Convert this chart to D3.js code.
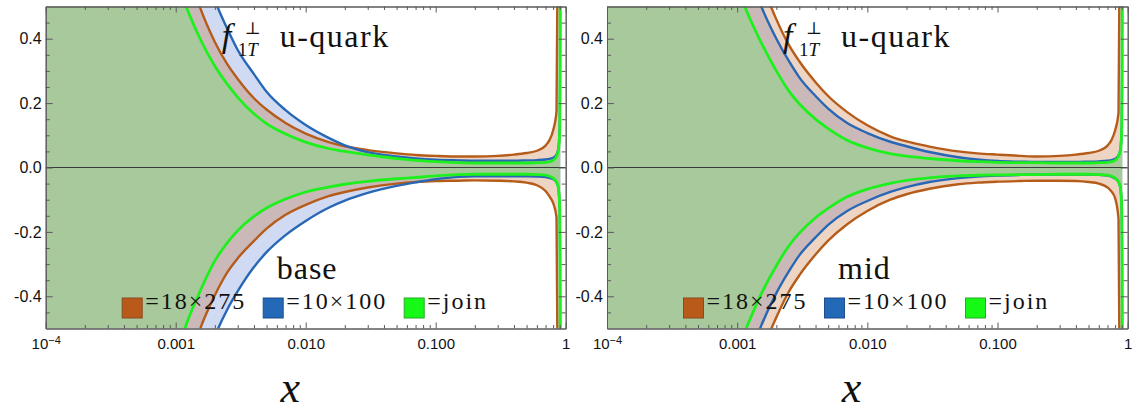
<!DOCTYPE html>
<html>
<head>
<meta charset="utf-8">
<script src="https://cdn.jsdelivr.net/npm/d3@7"></script>
<style>
  body { margin: 0; background: #fff; }
  .serif { font-family: "Liberation Serif", "DejaVu Serif", serif; }
  .sans { font-family: "Liberation Sans", Arial, sans-serif; }
</style>
</head>
<body>
<div id="container"></div>
<script>
const w = 1135;
const h = 411;

// x grid shared by every curve
const xs = [0.0001, 0.0005, 0.0008, 0.001, 0.0012, 0.0015, 0.002, 0.0025, 0.003, 0.004, 0.005, 0.007,
  0.01, 0.015, 0.02, 0.03, 0.05, 0.07, 0.1, 0.15, 0.2, 0.3, 0.4, 0.5, 0.6, 0.7, 0.75, 0.8, 0.85,
  0.88, 0.9, 0.905, 0.91];

// base panel
const baseJoinUp = [5, 1.0, 0.68, 0.58, 0.50, 0.41, 0.315, 0.258, 0.218, 0.167, 0.136, 0.104,
  0.079, 0.059, 0.050, 0.039, 0.028, 0.022, 0.018, 0.015, 0.014, 0.014, 0.014, 0.014, 0.015, 0.016, 0.018, 0.022, 0.035,
  0.055, 0.12, 0.3, 1.0];
const baseJoinLo = [-5, -1.0, -0.69, -0.59, -0.49, -0.395, -0.29, -0.233, -0.196, -0.152, -0.126, -0.098,
  -0.076, -0.061, -0.052, -0.043, -0.035, -0.031, -0.026, -0.022, -0.021, -0.021, -0.021, -0.021, -0.022, -0.024, -0.027, -0.033, -0.045,
  -0.065, -0.13, -0.3, -1.0];
const baseBrownUp = [5, 1.35, 0.92, 0.76, 0.64, 0.51, 0.39, 0.32, 0.275, 0.215, 0.180, 0.138,
  0.105, 0.079, 0.066, 0.054, 0.044, 0.039, 0.036, 0.034, 0.034, 0.036, 0.040, 0.045, 0.052, 0.068, 0.085, 0.115, 0.175,
  1.0, null, null, null];
const baseBrownLo = [-5, -1.35, -0.93, -0.77, -0.65, -0.515, -0.397, -0.325, -0.282, -0.228, -0.19, -0.147,
  -0.116, -0.089, -0.076, -0.062, -0.050, -0.045, -0.042, -0.041, -0.040, -0.041, -0.043, -0.047, -0.055, -0.073, -0.090, -0.110, -0.155,
  -1.0, null, null, null];
const baseBlueUp = [8, 2.2, 1.35, 1.1, 0.89, 0.69, 0.52, 0.43, 0.365, 0.29, 0.235, 0.178,
  0.132, 0.092, 0.069, 0.048, 0.034, 0.028, 0.024, 0.022, 0.021, 0.021, 0.021, 0.022, 0.023, 0.025, 0.027, 0.030, 0.040,
  0.06, 0.14, 0.32, 1.0];
const baseBlueLo = [-8, -2.2, -1.35, -1.1, -0.89, -0.69, -0.525, -0.44, -0.384, -0.309, -0.263, -0.210,
  -0.166, -0.125, -0.103, -0.079, -0.057, -0.046, -0.036, -0.029, -0.027, -0.027, -0.027, -0.027, -0.028, -0.030, -0.032, -0.036, -0.046,
  -0.066, -0.14, -0.32, -1.0];

// mid panel
const midJoinUp = [5, 0.98, 0.66, 0.56, 0.48, 0.395, 0.30, 0.237, 0.198, 0.15, 0.121, 0.085,
  0.061, 0.043, 0.035, 0.028, 0.021, 0.018, 0.016, 0.015, 0.015, 0.014, 0.014, 0.014, 0.015, 0.016, 0.018, 0.022, 0.035,
  0.055, 0.12, 0.3, 1.0];
const midJoinLo = [-5, -1.0, -0.67, -0.57, -0.49, -0.40, -0.305, -0.243, -0.204, -0.156, -0.127, -0.091,
  -0.067, -0.049, -0.040, -0.032, -0.026, -0.024, -0.023, -0.022, -0.022, -0.021, -0.021, -0.021, -0.022, -0.024, -0.027, -0.033, -0.045,
  -0.065, -0.13, -0.3, -1.0];
const midBrownUp = [6, 1.55, 1.04, 0.86, 0.73, 0.59, 0.46, 0.38, 0.33, 0.265, 0.222, 0.172,
  0.131, 0.097, 0.081, 0.065, 0.050, 0.044, 0.040, 0.036, 0.034, 0.036, 0.040, 0.045, 0.052, 0.068, 0.085, 0.115, 0.17,
  1.0, null, null, null];
const midBrownLo = [-6, -1.55, -1.04, -0.86, -0.73, -0.59, -0.465, -0.385, -0.335, -0.27, -0.227, -0.176,
  -0.135, -0.100, -0.083, -0.066, -0.052, -0.047, -0.044, -0.042, -0.041, -0.041, -0.042, -0.045, -0.050, -0.062, -0.074, -0.095, -0.16,
  -1.0, null, null, null];
const midBlueUp = [5, 1.35, 0.92, 0.76, 0.63, 0.51, 0.40, 0.33, 0.28, 0.222, 0.183, 0.138,
  0.107, 0.080, 0.066, 0.048, 0.032, 0.025, 0.020, 0.018, 0.017, 0.017, 0.017, 0.018, 0.019, 0.021, 0.023, 0.027, 0.038,
  0.058, 0.13, 0.3, 1.0];
const midBlueLo = [-5, -1.33, -0.90, -0.74, -0.61, -0.50, -0.39, -0.322, -0.273, -0.217, -0.178, -0.135,
  -0.104, -0.076, -0.061, -0.045, -0.033, -0.028, -0.025, -0.023, -0.022, -0.022, -0.022, -0.022, -0.023, -0.025, -0.028, -0.034, -0.045,
  -0.064, -0.135, -0.31, -1.0];

const xTicks = [1e-4, 1e-3, 1e-2, 1e-1, 1];
const xTickLabels = ['10', '0.001', '0.010', '0.100', '1'];
const xMinor = [2, 3, 4, 5, 6, 7, 8, 9];
const yTicks = [-0.4, -0.2, 0, 0.2, 0.4];
const yTickLabels = ['-0.4', '-0.2', '0.0', '0.2', '0.4'];
const yMinor = [-0.45, -0.35, -0.3, -0.25, -0.15, -0.1, -0.05, 0.05, 0.1, 0.15, 0.25, 0.3, 0.35, 0.45];
const legendLabels = ['=18×275', '=10×100', '=join'];
const panelNames = ['base', 'mid'];

const brownLine = '#b65c1b', blueLine = '#2767b6', greenLine = '#1ef01e';
const legendColors = [['#b95a1a', '#8a4a22'], ['#2468b8', '#1d4f8a'], ['#16f816', '#2aa82a']];

const panels = [
  {left: 45.7, right: 565.7, name: panelNames[0], joinUp: baseJoinUp, joinLo: baseJoinLo,
   brownUp: baseBrownUp, brownLo: baseBrownLo, blueUp: baseBlueUp, blueLo: baseBlueLo},
  {left: 607, right: 1127.7, name: panelNames[1], joinUp: midJoinUp, joinLo: midJoinLo,
   brownUp: midBrownUp, brownLo: midBrownLo, blueUp: midBlueUp, blueLo: midBlueLo}
];

const svg = d3.select('#container')
  .append('svg')
  .attr('width', w)
  .attr('height', h)
  .style('display', 'block');

const minorVals = xTicks.slice(0, 4).flatMap(d => xMinor.map(k => d * k));

panels.forEach((p, pi) => {
  const x = d3.scaleLog().domain([1e-4, 1]).range([p.left, p.right]);
  const y = d3.scaleLinear().domain([-0.5, 0.5]).range([328.5, 6.5]);
  const idx = d3.range(xs.length);

  svg.append('clipPath').attr('id', 'clip' + pi)
    .append('rect')
    .attr('x', p.left).attr('y', 6.5)
    .attr('width', p.right - p.left).attr('height', 322);

  const plot = svg.append('g').attr('clip-path', `url(#clip${pi})`);

  const band = (up, lo) => d3.area()
    .defined(i => up[i] != null)
    .x(i => x(xs[i]))
    .y0(i => y(lo[i]))
    .y1(i => y(up[i]))
    .curve(d3.curveMonotoneX);
  const line = arr => d3.line()
    .defined(i => arr[i] != null)
    .x(i => x(xs[i]))
    .y(i => y(arr[i]))
    .curve(d3.curveMonotoneX);

  // bands: blue, then brown over it, then the join band on top
  plot.append('path').datum(idx)
    .attr('d', band(p.blueUp, p.blueLo))
    .attr('fill', '#2a5cc8').attr('fill-opacity', 0.22);
  plot.append('path').datum(idx)
    .attr('d', band(p.brownUp, p.brownLo))
    .attr('fill', '#c0601e').attr('fill-opacity', 0.27);
  plot.append('path').datum(idx)
    .attr('d', band(p.joinUp, p.joinLo))
    .attr('fill', '#a8c99c');

  plot.append('line')
    .attr('x1', p.left).attr('x2', p.right)
    .attr('y1', y(0)).attr('y2', y(0))
    .attr('stroke', '#3a3a3a').attr('stroke-width', 1);

  [[p.brownUp, brownLine, 2.4], [p.brownLo, brownLine, 2.4],
   [p.blueUp, blueLine, 2.4], [p.blueLo, blueLine, 2.4],
   [p.joinUp, greenLine, 2.8], [p.joinLo, greenLine, 2.8]].forEach(([arr, col, sw]) => {
    plot.append('path').datum(idx)
      .attr('d', line(arr))
      .attr('fill', 'none')
      .attr('stroke', col)
      .attr('stroke-width', sw);
  });

  // axes (ticks point inward)
  const axes = svg.append('g');
  const bottom = axes.append('g').attr('transform', 'translate(0,328.5)')
    .call(d3.axisBottom(x).tickValues(xTicks).tickSize(-6).tickSizeOuter(0).tickPadding(9.5)
      .tickFormat((d, i) => xTickLabels[i]));
  axes.append('g').attr('transform', 'translate(0,328.5)')
    .call(d3.axisBottom(x).tickValues(minorVals).tickSize(-3.5).tickSizeOuter(0).tickFormat(''));
  axes.append('g').attr('transform', 'translate(0,6.5)')
    .call(d3.axisTop(x).tickValues(xTicks).tickSize(-6).tickSizeOuter(0).tickFormat(''));
  axes.append('g').attr('transform', 'translate(0,6.5)')
    .call(d3.axisTop(x).tickValues(minorVals).tickSize(-3.5).tickSizeOuter(0).tickFormat(''));
  axes.append('g').attr('transform', `translate(${p.left},0)`)
    .call(d3.axisLeft(y).tickValues(yTicks).tickSize(-7).tickSizeOuter(0).tickPadding(4)
      .tickFormat((d, i) => yTickLabels[i]));
  axes.append('g').attr('transform', `translate(${p.left},0)`)
    .call(d3.axisLeft(y).tickValues(yMinor).tickSize(-4).tickSizeOuter(0).tickFormat(''));
  axes.append('g').attr('transform', `translate(${p.right},0)`)
    .call(d3.axisRight(y).tickValues(yTicks).tickSize(-7).tickSizeOuter(0).tickFormat(''));
  axes.append('g').attr('transform', `translate(${p.right},0)`)
    .call(d3.axisRight(y).tickValues(yMinor).tickSize(-4).tickSizeOuter(0).tickFormat(''));

  axes.selectAll('g').attr('font-family', null);
  axes.selectAll('.domain').attr('stroke', '#5a5a5a');
  axes.selectAll('.tick line').attr('stroke', '#5a5a5a');
  axes.selectAll('text').attr('class', 'sans').style('font-size', '16px').attr('fill', '#111');
  bottom.selectAll('text').style('font-size', '15px');

  // 10^-4 label with superscript
  bottom.selectAll('.tick text').filter((d, i) => i === 0)
    .text(null)
    .call(t => {
      t.append('tspan').text(xTickLabels[0]);
      t.append('tspan').attr('dy', -5).style('font-size', '11px').text('−4');
    });

  // title
  const title = svg.append('text').attr('class', 'serif').attr('fill', '#111');
  title.append('tspan').attr('x', p.left + 176).attr('y', 47)
    .style('font-size', '34px').style('font-style', 'italic').text('f');
  title.append('tspan').attr('x', p.left + 199).attr('y', 34)
    .style('font-size', '17px').text('⊥');
  title.append('tspan').attr('x', p.left + 192).attr('y', 56)
    .style('font-size', '19px').text('1');
  title.append('tspan').style('font-size', '19px').style('font-style', 'italic').text('T');
  title.append('tspan').attr('x', p.left + 234).attr('y', 47)
    .style('font-size', '32px').style('letter-spacing', '1.5px').text('u-quark');

  svg.append('text').attr('class', 'serif')
    .attr('x', p.left + 231).attr('y', 279)
    .style('font-size', '32px').style('letter-spacing', '1px')
    .attr('fill', '#111')
    .text(p.name);

  // legend
  [76.5, 217.5, 358.5].forEach((off, i) => {
    svg.append('rect')
      .attr('x', p.left + off).attr('y', 298)
      .attr('width', 20).attr('height', 20)
      .attr('fill', legendColors[i][0])
      .attr('stroke', legendColors[i][1]).attr('stroke-width', 1);
    svg.append('text').attr('class', 'serif')
      .attr('x', p.left + off + 23).attr('y', 308.5)
      .style('font-size', '24px').style('letter-spacing', '2px')
      .attr('fill', '#111')
      .text(legendLabels[i]);
  });

  svg.append('text').attr('class', 'serif')
    .attr('x', p.left + 244.5).attr('y', 402)
    .attr('text-anchor', 'middle')
    .style('font-style', 'italic').style('font-size', '44px')
    .attr('fill', '#111')
    .text('x');
});
</script>
</body>
</html>
